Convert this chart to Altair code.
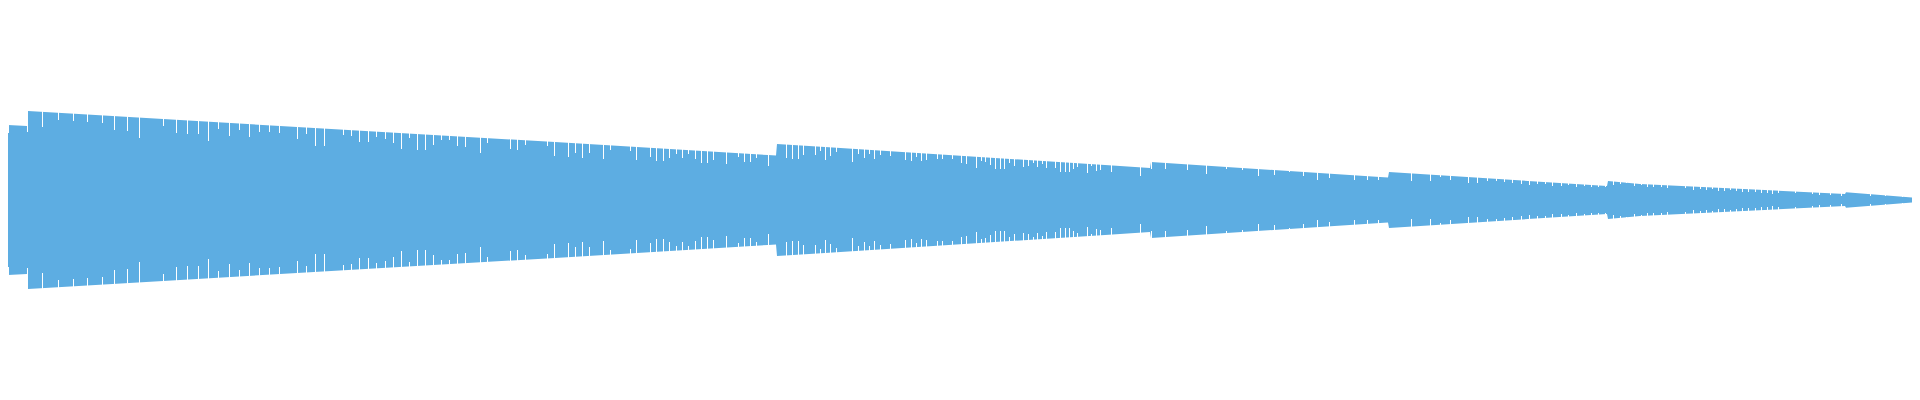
import altair as alt
import pandas as pd

# Envelope of the waveform: sample position and half-amplitude
env_t = [0, 8, 27, 28, 280, 555, 768, 776, 777, 825, 1105, 1150,
         1151, 1380, 1388, 1389, 1607, 1608, 1640, 1845, 1846, 1918]
env_half = [76, 75, 74, 89, 74, 58, 45, 44.5, 56, 53, 35, 32,
            38, 23, 22.5, 28, 14, 19, 16, 6, 7.7, 2]

# Notches (shorter bars): position and inner half-amplitude where the notch ends
notch_t = [8, 27, 42, 58, 73, 87, 102, 114, 127, 139, 163, 176, 187, 198, 208, 218, 229, 239, 249, 259, 269, 279,
           297, 306, 315, 324, 343, 351, 359, 368, 376, 385, 393, 401, 409, 417, 425, 433, 441, 449, 457, 465, 473,
           480, 487, 510, 517, 525, 547, 554,
           568, 575, 582, 589, 603, 610, 630, 636, 650, 656, 663, 669, 676, 682, 688, 695, 701, 707, 713, 726,
           738, 744, 750, 756, 768, 786, 792, 798, 803, 815, 820, 825,
           830, 836, 852, 858, 864, 869, 874, 880, 890, 905, 911, 916, 921, 926, 937, 942, 952, 961, 966, 976,
           981, 985, 990, 995, 1000, 1004, 1009, 1014, 1023, 1028, 1033, 1037, 1042, 1046, 1055, 1060, 1065,
           1069, 1073, 1077, 1087, 1091, 1096, 1100,
           1111, 1140, 1151, 1165, 1187, 1206, 1226, 1242, 1258, 1274, 1289, 1303, 1317, 1329, 1354, 1367, 1378,
           1411, 1430, 1440, 1450, 1468, 1477, 1487, 1496, 1504, 1512, 1521, 1529, 1537, 1545, 1552, 1561, 1568,
           1576, 1584, 1591, 1598, 1605, 1613, 1620, 1626, 1634, 1641, 1647, 1653,
           1661, 1667, 1685, 1693, 1700, 1706, 1712, 1718, 1724, 1730, 1736, 1742, 1748, 1755, 1761, 1767, 1772,
           1778, 1795, 1812, 1819, 1830, 1841, 1870, 1885, 1902]
notch_inner = [67, 68, 73, 80, 79, 78, 77, 70, 69, 62, 74, 67, 66, 66, 59, 71, 64, 70, 63, 68, 68, 67,
               61, 66, 54, 54, 65, 64, 58, 58, 63, 61, 57, 51, 62, 50, 50, 55, 60, 60, 54, 53, 63,
               47, 57, 51, 50, 55, 54, 44,
               43, 47, 42, 47, 41, 50, 49, 40, 43, 39, 39, 42, 46, 42, 46, 41, 37, 37, 40, 36,
               43, 38, 38, 42, 34, 42, 41, 41, 45, 45, 49, 40,
               44, 48, 38, 46, 42, 46, 41, 45, 44, 40, 39, 43, 39, 40, 41, 41, 41, 37, 36, 32,
               39, 38, 35, 31, 31, 31, 37, 34, 33, 34, 37, 33, 36, 32, 32, 28, 28,
               28, 31, 33, 27, 34, 29, 30,
               28, 24, 31, 31, 30, 26, 31, 30, 24, 25, 28, 24, 20, 22, 20, 20, 20,
               19, 19, 23, 20, 17, 17, 19, 19, 18, 17, 16, 15, 16, 16, 14, 14, 15,
               13, 14, 13, 13, 13, 15, 16, 17, 14, 15, 13, 13,
               13, 12, 12, 10, 11, 10, 11, 9, 9, 10, 9, 8, 8, 8, 7, 7, 6,
               7, 7, 6, 5, 5, 4, 4, 4, 3]

W, H = 1904, 384
BLUE = "#5DADE2"

env = pd.DataFrame({"t": env_t, "half": env_half})
notches = pd.DataFrame({"t": notch_t, "inner": notch_inner})

xs = alt.Scale(domain=[8, 1912], nice=False, zero=False)
ys = alt.Scale(domain=[-192, 192], nice=False, zero=False)

area = alt.Chart(env).transform_calculate(neg="-datum.half").mark_area(
    color=BLUE, clip=True, opacity=1
).encode(
    x=alt.X("t:Q", scale=xs, axis=None),
    y=alt.Y("half:Q", scale=ys, axis=None),
    y2="neg:Q",
)

top_notch = alt.Chart(notches).mark_rule(
    color="white", strokeWidth=1, xOffset=0.5, clip=True
).encode(
    x=alt.X("t:Q", scale=xs, axis=None),
    y=alt.Y("inner:Q", scale=ys, axis=None),
    y2=alt.value(0),
)

bottom_notch = alt.Chart(notches).transform_calculate(ninner="-datum.inner").mark_rule(
    color="white", strokeWidth=1, xOffset=0.5, clip=True
).encode(
    x=alt.X("t:Q", scale=xs, axis=None),
    y=alt.Y("ninner:Q", scale=ys, axis=None),
    y2=alt.value(H),
)

chart = alt.layer(area, top_notch, bottom_notch).properties(
    width=W, height=H, padding=0, background="white"
).configure_view(stroke=None)

chart.save("out.html", embed_options={"renderer": "svg", "actions": False})
